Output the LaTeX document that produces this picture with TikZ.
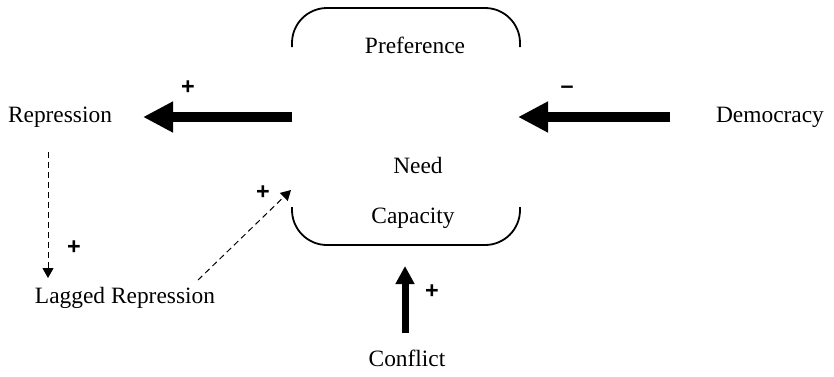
\documentclass[tikz,border=0pt]{standalone}
\usepackage{fontspec}
\setmainfont{Liberation Serif}
\newfontfamily\signfont{Liberation Sans}
\usetikzlibrary{arrows.meta}

\begin{document}
\begin{tikzpicture}[x=0.5pt,y=-0.5pt,
    every node/.style={font=\fontsize{11.7}{14}\selectfont},
    sign/.style={font=\signfont\bfseries\fontsize{11.7}{14}\selectfont},
    thick link/.style={line width=5pt,-{Triangle[length=15pt,width=14.5pt]}},
    thin link/.style={line width=3.5pt,-{Triangle[length=9pt,width=9pt]}},
    lag link/.style={line width=0.5pt,dash pattern=on 3pt off 2pt,-{Triangle[length=5pt,width=5.5pt]}}]
      \useasboundingbox (0,0) rectangle (834,376);
      % variables
      \draw
        (60,117) node (repr){Repression}
        (770,117) node (demo){Democracy}
        (418,165) node (need){Need}
        (415,45) node (pref){Preference}
        (413,218) node (capa){Capacity}
        (125,298) node (lag){Lagged Repression}
        (407,358) node (conf){Conflict};
      % the need box
      \draw[line width=0.9pt] (292,47) -- (292,43) arc[start angle=180,end angle=270,radius=35] -- (485,8)
        arc[start angle=270,end angle=360,radius=35] -- (520,47);
      \draw[line width=0.9pt] (292,207) -- (292,210) arc[start angle=180,end angle=90,radius=35] -- (485,245)
        arc[start angle=90,end angle=0,radius=35] -- (520,207);
      \coordinate (needW) at (292,117);
      \coordinate (needE) at (518,117);
      \coordinate (needS) at (405,266);
      \coordinate (needSW) at (291,190);
      \coordinate (demoW) at (670,117);
      \coordinate (reprE) at (143,117);
      \coordinate (confN) at (405,333);
      \coordinate (reprS) at (48,152);
      \coordinate (lagN) at (48,278);
      \coordinate (lagNE) at (198,280);
      % links
      \draw[thick link] (needW) to (reprE);
      \draw[thick link] (demoW) to (needE);
      \draw[thin link] (confN) to (needS);
      \draw[lag link] (reprS) to (lagN);
      \draw[lag link] (lagNE) to (needSW);
      \node[sign] at (188,88) {+};
      \node[sign] at (567,90) {–};
      \node[sign] at (432,292) {+};
      \node[sign] at (74,248) {+};
      \node[sign] at (263,193) {+};
    \end{tikzpicture}
\end{document}
